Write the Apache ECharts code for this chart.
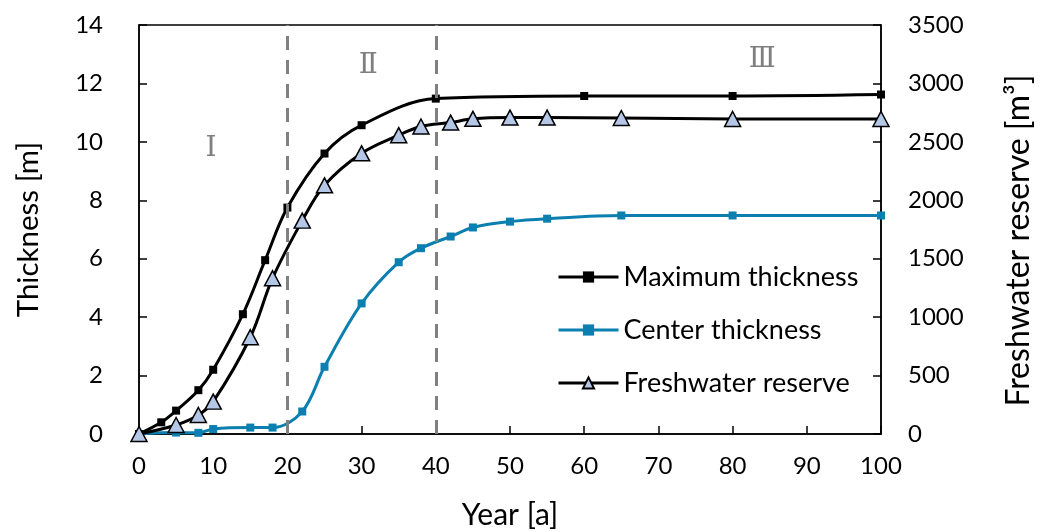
<!DOCTYPE html>
<html>
<head>
<meta charset="utf-8">
<script src="https://cdn.jsdelivr.net/npm/echarts@6/dist/echarts.min.js"></script>
<style>html,body{margin:0;padding:0;background:#fff}#c{width:1047px;height:532px}</style>
</head>
<body>
<div id="c"></div>
<script>
const xTicks = [0,10,20,30,40,50,60,70,80,90,100];
const maxYears = [0,3,5,8,10,14,17,20,25,30,40,60,80,100];
const maxThickness = [0,0.4,0.8,1.5,2.2,4.1,5.95,7.75,9.6,10.57,11.48,11.57,11.57,11.62];
const centerYears = [0,5,8,10,15,18,22,25,30,35,38,42,45,50,55,65,80,100];
const centerThickness = [0,0.05,0.04,0.17,0.22,0.22,0.77,2.3,4.47,5.88,6.36,6.76,7.07,7.27,7.37,7.48,7.48,7.48];
const reserveYears = [0,5,8,10,15,18,22,25,30,35,38,42,45,50,55,65,80,100];
const freshwaterReserve = [0,77,163,277,828,1333,1826,2128,2402,2557,2631,2665,2697,2708,2708,2704,2696,2696];
const stageBounds = [20,40];
const stageLabels = [['Ⅰ',9.7,9.75],['Ⅱ',30.9,12.62],['Ⅲ',84.0,12.8]];
const legendNames = ['Maximum thickness','Center thickness','Freshwater reserve'];

const pair = (xs, ys) => xs.map((x,i)=>[x, ys[i]]);
const FONT = 'Lato';
const chart = echarts.init(document.getElementById('c'), null, {renderer:'canvas'});
chart.setOption({
  animation:false,
  textStyle:{fontFamily:FONT},
  grid:{left:139, right:166, top:25, bottom:98, outerBoundsMode:'none', containLabel:false, show:true, borderColor:'#000', borderWidth:1.5, backgroundColor:'transparent'},
  legend:{
    orient:'vertical', left:552, top:257, itemWidth:60, itemHeight:14, itemGap:23,
    textStyle:{fontSize:27, lineHeight:30, color:'#000', fontFamily:FONT},
    lineStyle:{width:3},
    data:legendNames.map(n=>({name:n, lineStyle:{width:3}}))
  },
  xAxis:{
    type:'value', min:0, max:100, interval:10,
    name:'Year [a]', nameLocation:'middle', nameGap:66,
    nameTextStyle:{fontSize:30, color:'#000', fontFamily:FONT},
    axisLine:{show:true, lineStyle:{color:'#000', width:1.5}},
    axisTick:{show:true, inside:true, length:8, lineStyle:{color:'#000', width:1.5}},
    axisLabel:{fontSize:24, color:'#000', margin:20, fontFamily:FONT},
    splitLine:{show:false}
  },
  yAxis:[{
    type:'value', min:0, max:14, interval:2, position:'left',
    name:'Thickness [m]', nameLocation:'middle', nameGap:96, nameRotate:90,
    nameTextStyle:{fontSize:29.5, color:'#000', fontFamily:FONT},
    axisLine:{show:true, lineStyle:{color:'#000', width:1.5}},
    axisTick:{show:true, inside:true, length:8, lineStyle:{color:'#000', width:1.5}},
    axisLabel:{fontSize:24, color:'#000', margin:36, fontFamily:FONT},
    splitLine:{show:false}
  },{
    type:'value', min:0, max:3500, interval:500, position:'right',
    name:'Freshwater reserve [m³]', nameLocation:'middle', nameGap:122, nameRotate:90,
    nameTextStyle:{fontSize:32, color:'#000', fontFamily:FONT, padding:[0,22,0,0]},
    axisLine:{show:true, lineStyle:{color:'#000', width:1.5}},
    axisTick:{show:true, inside:true, length:8, lineStyle:{color:'#000', width:1.5}},
    axisLabel:{fontSize:24, color:'#000', margin:27, fontFamily:FONT, formatter:v=>String(v)},
    splitLine:{show:false}
  }],
  series:[
    {
      name:'Maximum thickness', type:'line', yAxisIndex:0, smooth:0.35,
      data:pair(maxYears, maxThickness),
      symbol:'rect', symbolSize:8,
      lineStyle:{color:'#000', width:3}, itemStyle:{color:'#000', borderWidth:0},
      z:3,
      markLine:{
        silent:true, symbol:'none', label:{show:false},
        lineStyle:{color:'#808080', type:[14,10], width:3},
        data:stageBounds.map(v=>({xAxis:v}))
      },
      markPoint:{
        silent:true, symbol:'circle', symbolSize:1, itemStyle:{color:'transparent'},
        label:{show:true, position:'inside', fontSize:28, color:'#7f7f7f', fontFamily:'DejaVu Serif', formatter:p=>p.name},
        data:stageLabels.map(s=>({name:s[0], coord:[s[1], s[2]]}))
      }
    },
    {
      name:'Center thickness', type:'line', yAxisIndex:0, smooth:0.35,
      data:pair(centerYears, centerThickness),
      symbol:'rect', symbolSize:8,
      lineStyle:{color:'#0A7FB0', width:3}, itemStyle:{color:'#0A7FB0', borderWidth:0},
      z:2
    },
    {
      name:'Freshwater reserve', type:'line', yAxisIndex:1, smooth:0.35,
      data:pair(reserveYears, freshwaterReserve),
      symbol:'triangle', symbolSize:[16,15],
      lineStyle:{color:'#000', width:3}, itemStyle:{color:'#B4C7E7', borderColor:'#000', borderWidth:1.5},
      z:4
    }
  ]
});
</script>
</body>
</html>
